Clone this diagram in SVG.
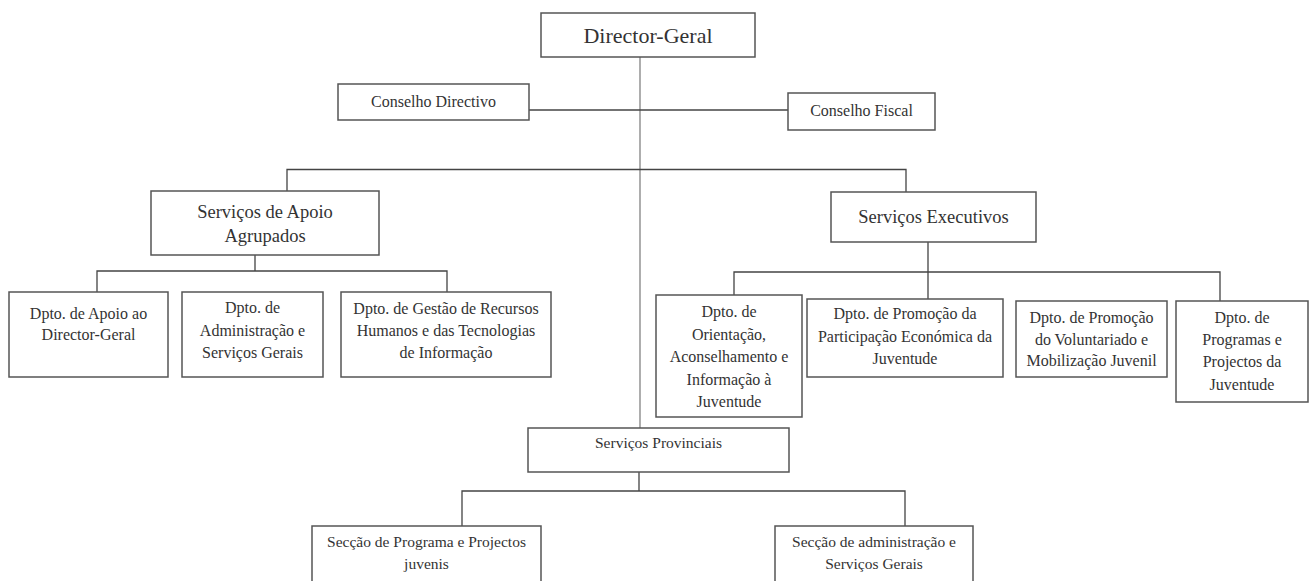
<svg xmlns="http://www.w3.org/2000/svg" width="1309" height="581" viewBox="0 0 1309 581">
<style>
.box{fill:#fff;stroke:#555;stroke-width:1.5}
.ln{fill:none;stroke:#444;stroke-width:1.3}
.main{fill:none;stroke:#777;stroke-width:1.2}
text{font-family:"Liberation Serif","Times New Roman",serif;fill:#333;text-anchor:middle}
.t22{font-size:22px}
.t18{font-size:18.5px}
.t16{font-size:16px}
.t15{font-size:15.5px}
</style>
<rect width="1309" height="581" fill="#fff"/>
<g id="connectors">
<path class="main" d="M640 57V428"/>
<path class="ln" d="M529 110H788"/>
<path class="ln" d="M287 191V169.5H906V192"/>
<path class="ln" d="M255 255V271M97 292V271H447V292"/>
<path class="ln" d="M928 242V299M734 295V272H1220V301"/>
<path class="ln" d="M639 472V491M462 526V491H905V526"/>
</g>
<g id="director-geral"><rect class="box" x="541" y="13" width="214" height="44"/><text class="t22" x="648" y="43">Director-Geral</text></g>
<g id="conselho-directivo"><rect class="box" x="338" y="84" width="191" height="36"/><text class="t16" x="433.5" y="107">Conselho Directivo</text></g>
<g id="conselho-fiscal"><rect class="box" x="788" y="93" width="147" height="37"/><text class="t16" x="861.5" y="116">Conselho Fiscal</text></g>
<g id="servicos-apoio"><rect class="box" x="151" y="191" width="228" height="64"/><text class="t18" x="265" y="218">Serviços de Apoio</text><text class="t18" x="265" y="242">Agrupados</text></g>
<g id="servicos-executivos"><rect class="box" x="831" y="192" width="205" height="50"/><text class="t18" x="933.5" y="223">Serviços Executivos</text></g>
<g id="dpto-apoio"><rect class="box" x="9" y="292" width="159" height="85"/><text class="t16" x="88.5" y="319">Dpto. de Apoio ao</text><text class="t16" x="88.5" y="340">Director-Geral</text></g>
<g id="dpto-administracao"><rect class="box" x="182" y="292" width="141" height="85"/><text class="t16" x="252.5" y="313">Dpto. de</text><text class="t16" x="252.5" y="336">Administração e</text><text class="t16" x="252.5" y="358">Serviços Gerais</text></g>
<g id="dpto-gestao"><rect class="box" x="341" y="292" width="210" height="85"/><text class="t16" x="446" y="314">Dpto. de Gestão de Recursos</text><text class="t16" x="446" y="336">Humanos e das Tecnologias</text><text class="t16" x="446" y="358">de Informação</text></g>
<g id="dpto-orientacao"><rect class="box" x="656" y="295" width="146" height="122"/><text class="t16" x="729" y="317">Dpto. de</text><text class="t16" x="729" y="340">Orientação,</text><text class="t16" x="729" y="362">Aconselhamento e</text><text class="t16" x="729" y="385">Informação à</text><text class="t16" x="729" y="407">Juventude</text></g>
<g id="dpto-participacao"><rect class="box" x="807" y="299" width="196" height="78"/><text class="t16" x="905" y="319">Dpto. de Promoção da</text><text class="t16" x="905" y="342">Participação Económica da</text><text class="t16" x="905" y="364">Juventude</text></g>
<g id="dpto-voluntariado"><rect class="box" x="1016" y="301" width="151" height="76"/><text class="t16" x="1091.5" y="323">Dpto. de Promoção</text><text class="t16" x="1091.5" y="345">do Voluntariado e</text><text class="t16" x="1091.5" y="366">Mobilização Juvenil</text></g>
<g id="dpto-programas"><rect class="box" x="1176" y="301" width="132" height="101"/><text class="t16" x="1242" y="323">Dpto. de</text><text class="t16" x="1242" y="345">Programas e</text><text class="t16" x="1242" y="367">Projectos da</text><text class="t16" x="1242" y="390">Juventude</text></g>
<g id="servicos-provinciais"><rect class="box" x="528" y="428" width="261" height="44"/><text class="t15" x="658.5" y="448">Serviços Provinciais</text></g>
<g id="seccao-programa"><rect class="box" x="312" y="526" width="229" height="58"/><text class="t15" x="426.5" y="547">Secção de Programa e Projectos</text><text class="t15" x="426.5" y="569">juvenis</text></g>
<g id="seccao-administracao"><rect class="box" x="775" y="526" width="198" height="58"/><text class="t15" x="874" y="547">Secção de administração e</text><text class="t15" x="874" y="569">Serviços Gerais</text></g>
</svg>
